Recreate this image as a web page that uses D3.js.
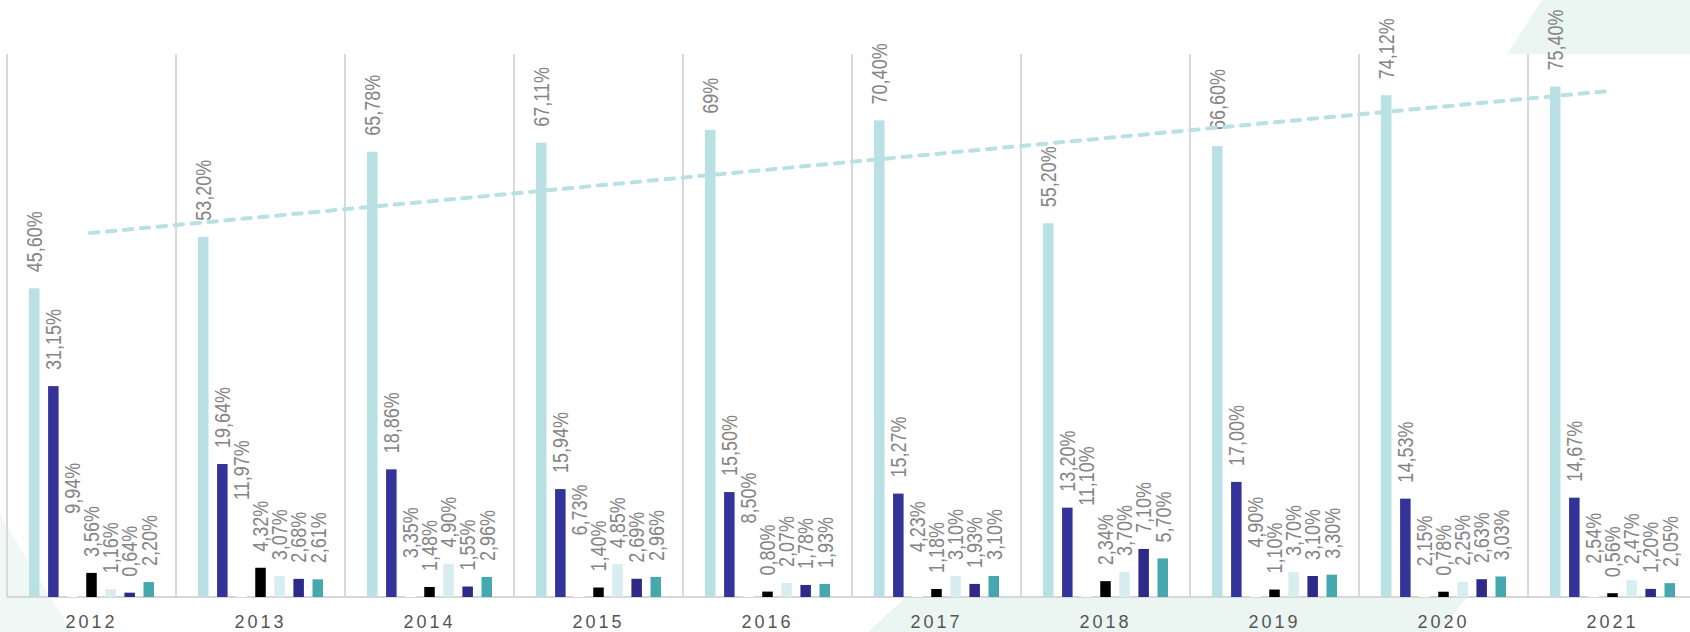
<!DOCTYPE html>
<html>
<head>
<meta charset="utf-8">
<script src="https://cdn.jsdelivr.net/npm/d3@7"></script>
<style>
  html, body { margin: 0; padding: 0; background: #ffffff; }
  svg { display: block; }
  text { font-family: "Liberation Sans", Arial, Helvetica, sans-serif; }
</style>
</head>
<body>
<svg id="chart" width="1690" height="632"></svg>
<script>
// ---- data ----
const years = ["2012","2013","2014","2015","2016","2017","2018","2019","2020","2021"];
const series1 = [45.60, 53.20, 65.78, 67.11, 69, 70.40, 55.20, 66.60, 74.12, 75.40];
const series1Decimals = [2, 2, 2, 2, 0, 2, 2, 2, 2, 2];
const series2 = [31.15, 19.64, 18.86, 15.94, 15.50, 15.27, 13.20, 17.00, 14.53, 14.67];
const series3 = [9.94, 11.97, 3.35, 6.73, 8.50, 4.23, 11.10, 4.90, 2.15, 2.54];
const series4 = [3.56, 4.32, 1.48, 1.40, 0.80, 1.18, 2.34, 1.10, 0.78, 0.56];
const series5 = [1.16, 3.07, 4.90, 4.85, 2.07, 3.10, 3.70, 3.70, 2.25, 2.47];
const series6 = [0.64, 2.68, 1.55, 2.69, 1.78, 1.93, 7.10, 3.10, 2.63, 1.20];
const series7 = [2.20, 2.61, 2.96, 2.96, 1.93, 3.10, 5.70, 3.30, 3.03, 2.05];
const seriesNames = ["S1","S2","S3","S4","S5","S6","S7"];
const seriesColors = ["#b9e0e3","#343399","#ffffff","#000000","#d8edf0","#2d2a8a","#45a8af"];

const seriesData = [series1, series2, series3, series4, series5, series6, series7];

// ---- layout ----
const W = 1690, H = 632;
const baseY = 597, topY = 55.4;
const svg = d3.select("#chart");

// decorative background shapes
const bg = svg.append("g").attr("fill", "#ebf5f1");
bg.append("path").attr("d", "M1507,54 L1542,0 L1690,0 L1690,54 Z");
bg.append("path").attr("d", "M905,598 L1466,598 L1440,632 L868,632 Z");
bg.append("path").attr("d", "M0,515 L72,632 L0,632 Z").attr("fill", "#f0f8f5");

const x = d3.scaleBand().domain(years).range([7, 7 + 169 * years.length]).padding(0);
const xi = d3.scaleBand().domain(d3.range(seriesNames.length)).range([22, 169 - 22]).paddingInner(0.45).paddingOuter(0);
const y = d3.scaleLinear().domain([0, 80]).range([baseY, topY]);

// vertical grid lines at category boundaries
const grid = svg.append("g");
grid.selectAll("line").data(years).join("line")
  .attr("x1", d => x(d)).attr("x2", d => x(d))
  .attr("y1", 54).attr("y2", baseY)
  .attr("stroke", "#d9d9d9").attr("stroke-width", 2);

// baseline
svg.append("line")
  .attr("x1", x.range()[0]).attr("x2", W)
  .attr("y1", baseY).attr("y2", baseY)
  .attr("stroke", "#d6d6d6").attr("stroke-width", 2);

// bars
const fmt = (v, dec) => v.toFixed(dec).replace(".", ",") + "%";
const flat = [];
seriesData.forEach((arr, si) => arr.forEach((v, yi) => {
  flat.push({ si, year: years[yi], v, dec: si === 0 ? series1Decimals[yi] : 2 });
}));

svg.append("g").selectAll("rect").data(flat).join("rect")
  .attr("x", d => x(d.year) + xi(d.si))
  .attr("width", xi.bandwidth())
  .attr("y", d => y(d.v))
  .attr("height", d => baseY - y(d.v))
  .attr("fill", d => seriesColors[d.si]);

// value labels (rotated)
svg.append("g").selectAll("text").data(flat).join("text")
  .attr("transform", d => {
    const cx = x(d.year) + xi(d.si) + xi.bandwidth() / 2;
    const cy = y(d.v) - 16;
    return `translate(${cx},${cy}) rotate(-90) scale(1,1.2)`;
  })
  .attr("dy", "0.36em")
  .attr("text-anchor", "start")
  .attr("font-size", 18)
  .attr("fill", "#858585")
  .text(d => fmt(d.v, d.dec));

// trend line (linear regression of series 1)
const n = series1.length;
const mx = d3.mean(d3.range(n)), my = d3.mean(series1);
const sxy = d3.sum(d3.range(n), i => (i - mx) * (series1[i] - my));
const sxx = d3.sum(d3.range(n), i => (i - mx) * (i - mx));
const slope = sxy / sxx, intercept = my - slope * mx;
const trend = [0, n - 1].map(i => [x(years[i]) + x.bandwidth() / 2 - 1.5 - (i ? 3 : 0), y(intercept + slope * i)]);
svg.append("path")
  .attr("d", d3.line()(trend))
  .attr("fill", "none")
  .attr("stroke", "#b9e0e3")
  .attr("stroke-width", 4)
  .attr("stroke-linecap", "round")
  .attr("stroke-dasharray", "8.5 8.5");

// x axis labels
svg.append("g").selectAll("text").data(years).join("text")
  .attr("x", d => x(d) + x.bandwidth() / 2)
  .attr("y", 628)
  .attr("text-anchor", "middle")
  .attr("font-size", 18)
  .attr("letter-spacing", 3)
  .attr("fill", "#555555")
  .text(d => d);
</script>
</body>
</html>
